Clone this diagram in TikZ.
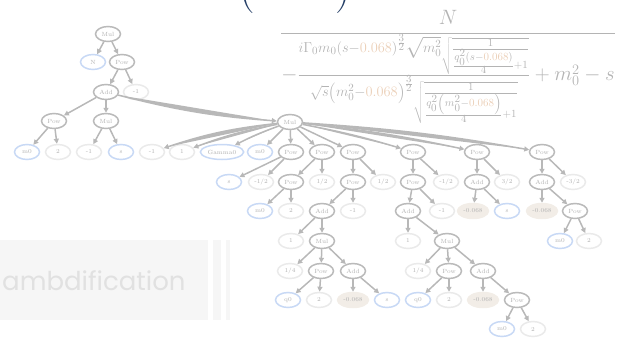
\documentclass[tikz,border=0pt]{standalone}
\usepackage{fontspec}
\newfontfamily\handfont{Poppins}
\usetikzlibrary{shapes.geometric,arrows.meta}
\definecolor{fungray}{HTML}{BABABA}
\definecolor{constgray}{HTML}{EAEAEA}
\definecolor{varblue}{HTML}{C8D9F5}
\definecolor{numbeige}{HTML}{F2EDE7}
\definecolor{edgegray}{HTML}{B8B8B8}
\definecolor{textgray}{HTML}{B2B2B2}
\definecolor{exprgray}{HTML}{B4B4B4}
\definecolor{exprorange}{HTML}{EBCFB7}
\definecolor{navy}{HTML}{243E66}
\definecolor{panel}{HTML}{F6F6F6}
\definecolor{handgray}{HTML}{E1E1E1}
\begin{document}
\begin{tikzpicture}[x=1pt,y=1pt]

\tikzstyle{onode} = [ellipse,minimum width=25pt,minimum height=15pt,inner sep=1pt,line width=1.5pt,font=\fontsize{6}{7}\selectfont,text=textgray,fill=white];
\tikzstyle{fnode} = [onode,draw=fungray];
\tikzstyle{cnode} = [onode,draw=constgray];
\tikzstyle{vnode} = [onode,draw=varblue];
\tikzstyle{knode} = [onode,draw=numbeige,fill=numbeige,minimum width=31pt];
\tikzstyle{elink} = [-{Triangle[length=5pt,width=5pt]},line width=1.5pt,draw=edgegray,fill=edgegray];
\newcommand{\kk}{\textcolor{exprorange}{0.068}}

\useasboundingbox (0,0) rectangle (634,-340);

\fill [panel] (0,-240) rectangle (208,-320);
\fill [panel] (213,-240) rectangle (221,-320);
\fill [panel] (226,-240) rectangle (230,-320);
\node [anchor=base west,inner sep=0pt,text=handgray,font=\handfont\fontsize{26}{26}\selectfont] (brand) at (2,-290) {ambdification};

\node [anchor=south,inner sep=0pt,text=navy,font=\fontsize{44}{44}\selectfont] (lpar) at (247,-14) {(};
\node [anchor=south,inner sep=0pt,text=navy,font=\fontsize{44}{44}\selectfont] (rpar) at (343,-14) {)};

\node [inner sep=0pt,text=exprgray,font=\fontsize{22.5}{25}\selectfont] (expr) at (448,-67) {$\displaystyle\frac{N}{-\frac{i\Gamma_0 m_0\left(s-\kk\right)^{\frac{3}{2}}\sqrt{m_0^2}\sqrt{\frac{1}{\frac{q_0^2\left(s-\kk\right)}{4}+1}}}{\sqrt{s}\left(m_0^2-\kk\right)^{\frac{3}{2}}\sqrt{\frac{1}{\frac{q_0^2\left(m_0^2-\kk\right)}{4}+1}}}+m_0^2-s}$};

\node [fnode] (mul0) at (108,-34) {Mul};
\node [vnode] (n) at (93,-62) {N};
\node [fnode] (pow0) at (122,-62) {Pow};
\node [fnode] (add0) at (106,-92) {Add};
\node [cnode] (c0) at (136,-92) {-1};
\node [fnode] (pow1) at (54,-121) {Pow};
\node [fnode] (mul1) at (106,-121) {Mul};
\node [fnode] (mulb) at (290,-122) {Mul};
\node [vnode] (v0) at (27,-152) {m0};
\node [cnode] (c1) at (58,-152) {2};
\node [cnode] (c2) at (89,-152) {-1};
\node [vnode] (v1) at (121,-152) {s};
\node [cnode] (c3) at (152,-152) {-1};
\node [cnode] (c4) at (182,-152) {1};
\node [vnode,minimum width=40pt] (v2) at (222,-152) {Gamma0};
\node [vnode] (v3) at (260,-152) {m0};
\node [fnode] (pa) at (291,-152) {Pow};
\node [fnode] (pb) at (322,-152) {Pow};
\node [fnode] (pc) at (353,-152) {Pow};
\node [fnode] (pd) at (413,-152) {Pow};
\node [fnode] (pe) at (477,-152) {Pow};
\node [fnode] (pf) at (542,-152) {Pow};

\node [vnode] (a0) at (229,-182) {s};
\node [cnode] (a1) at (261,-182) {-1/2};
\node [fnode] (b0) at (291,-182) {Pow};
\node [cnode] (b1) at (322,-182) {1/2};
\node [fnode] (c5) at (353,-182) {Pow};
\node [cnode] (c6) at (383,-182) {1/2};
\node [fnode] (d0) at (413,-182) {Pow};
\node [cnode] (d1) at (446,-182) {-1/2};
\node [fnode] (e0) at (477,-182) {Add};
\node [cnode] (e1) at (507,-182) {3/2};
\node [fnode] (f0) at (542,-182) {Add};
\node [cnode] (f1) at (573,-182) {-3/2};

\node [vnode] (b2) at (260,-211) {m0};
\node [cnode] (b3) at (291,-211) {2};
\node [fnode] (c7) at (322,-211) {Add};
\node [cnode] (c8) at (353,-211) {-1};
\node [fnode] (d2) at (408,-211) {Add};
\node [cnode] (d3) at (442,-211) {-1};
\node [knode] (e2) at (473,-211) {-0.068};
\node [vnode] (e3) at (507,-211) {s};
\node [knode] (f2) at (542,-211) {-0.068};
\node [fnode] (f3) at (575,-211) {Pow};

\node [cnode] (c9) at (291,-241) {1};
\node [fnode] (c10) at (322,-241) {Mul};
\node [cnode] (d4) at (408,-241) {1};
\node [fnode] (d5) at (447,-241) {Mul};
\node [vnode] (f4) at (560,-241) {m0};
\node [cnode] (f5) at (589,-241) {2};

\node [cnode] (c11) at (290,-271) {1/4};
\node [fnode] (c12) at (321,-271) {Pow};
\node [fnode] (c13) at (353,-271) {Add};
\node [cnode] (d6) at (418,-271) {1/4};
\node [fnode] (d7) at (449,-271) {Pow};
\node [fnode] (d8) at (483,-271) {Add};

\node [vnode] (c14) at (288,-300) {q0};
\node [cnode] (c15) at (319,-300) {2};
\node [knode] (c16) at (353,-300) {-0.068};
\node [vnode] (c17) at (387,-300) {s};
\node [vnode] (d9) at (418,-300) {q0};
\node [cnode] (d10) at (449,-300) {2};
\node [knode] (d11) at (483,-300) {-0.068};
\node [fnode] (d12) at (517,-300) {Pow};

\node [vnode] (d13) at (502,-329) {m0};
\node [cnode] (d14) at (533,-329) {2};

\draw [elink] (mul0) -- (n);
\draw [elink] (mul0) -- (pow0);
\draw [elink] (pow0) -- (add0);
\draw [elink] (pow0) -- (c0);
\draw [elink] (add0) -- (pow1);
\draw [elink] (add0) -- (mul1);
\draw [elink] (add0) to[bend right=5] (mulb);
\draw [elink] (pow1) -- (v0);
\draw [elink] (pow1) -- (c1);
\draw [elink] (mul1) -- (c2);
\draw [elink] (mul1) -- (v1);

\draw [elink] (mulb) to[bend right=6] (c3);
\draw [elink] (mulb) to[bend right=5] (c4);
\draw [elink] (mulb) to[bend right=4] (v2);
\draw [elink] (mulb) -- (v3);
\draw [elink] (mulb) -- (pa);
\draw [elink] (mulb) -- (pb);
\draw [elink] (mulb) -- (pc);
\draw [elink] (mulb) to[bend left=3] (pd);
\draw [elink] (mulb) to[bend left=3] (pe);
\draw [elink] (mulb) to[bend left=3] (pf);

\draw [elink] (pa) -- (a0);
\draw [elink] (pa) -- (a1);
\draw [elink] (pb) -- (b0);
\draw [elink] (pb) -- (b1);
\draw [elink] (b0) -- (b2);
\draw [elink] (b0) -- (b3);
\draw [elink] (pc) -- (c5);
\draw [elink] (pc) -- (c6);
\draw [elink] (c5) -- (c7);
\draw [elink] (c5) -- (c8);
\draw [elink] (c7) -- (c9);
\draw [elink] (c7) -- (c10);
\draw [elink] (c10) -- (c11);
\draw [elink] (c10) -- (c12);
\draw [elink] (c10) -- (c13);
\draw [elink] (c12) -- (c14);
\draw [elink] (c12) -- (c15);
\draw [elink] (c13) -- (c16);
\draw [elink] (c13) -- (c17);

\draw [elink] (pd) -- (d0);
\draw [elink] (pd) -- (d1);
\draw [elink] (d0) -- (d2);
\draw [elink] (d0) -- (d3);
\draw [elink] (d2) -- (d4);
\draw [elink] (d2) -- (d5);
\draw [elink] (d5) -- (d6);
\draw [elink] (d5) -- (d7);
\draw [elink] (d5) -- (d8);
\draw [elink] (d7) -- (d9);
\draw [elink] (d7) -- (d10);
\draw [elink] (d8) -- (d11);
\draw [elink] (d8) -- (d12);
\draw [elink] (d12) -- (d13);
\draw [elink] (d12) -- (d14);

\draw [elink] (pe) -- (e0);
\draw [elink] (pe) -- (e1);
\draw [elink] (e0) -- (e2);
\draw [elink] (e0) -- (e3);
\draw [elink] (pf) -- (f0);
\draw [elink] (pf) -- (f1);
\draw [elink] (f0) -- (f2);
\draw [elink] (f0) -- (f3);
\draw [elink] (f3) -- (f4);
\draw [elink] (f3) -- (f5);

\end{tikzpicture}
\end{document}
